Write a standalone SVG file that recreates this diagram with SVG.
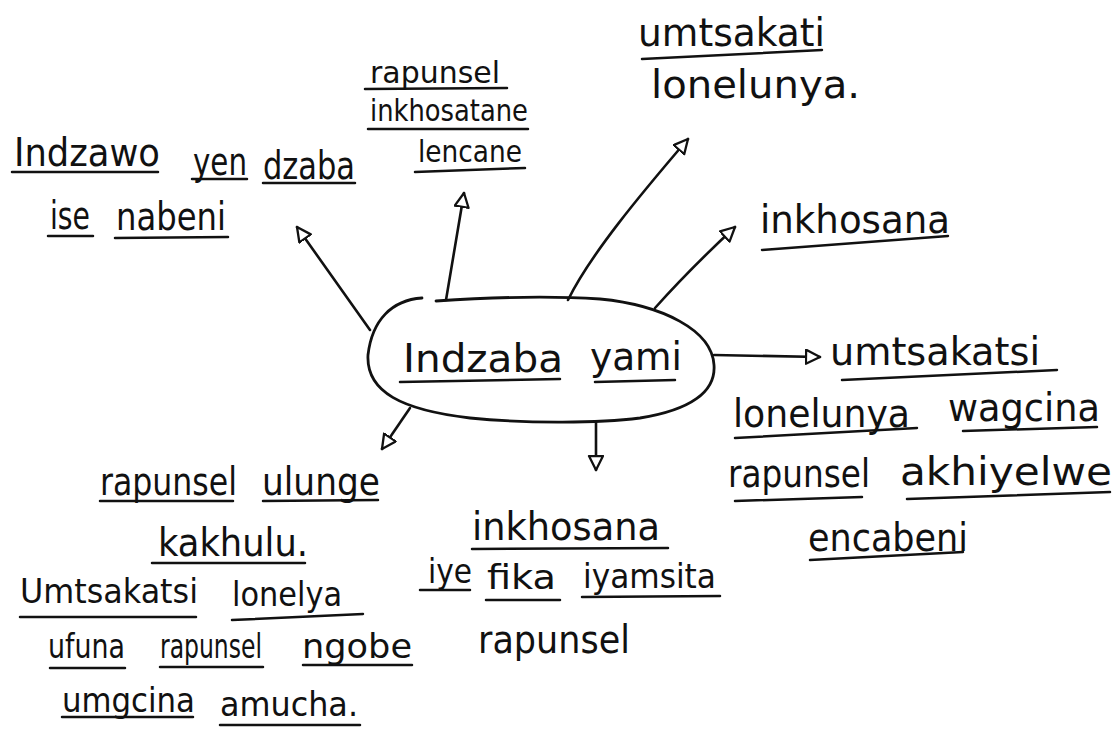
<svg xmlns="http://www.w3.org/2000/svg" width="1117" height="730" viewBox="0 0 1117 730">
<style>
text{font-family:"DejaVu Sans","Liberation Sans",sans-serif;font-size:39px;fill:#111}
.sm{font-size:31px}
.md{font-size:34px}
.ul{stroke:#111;stroke-width:2.5;stroke-linecap:round;fill:none}
.con{stroke:#111;stroke-width:2.6;stroke-linecap:round;fill:none;marker-end:url(#arr)}
.bub{stroke:#111;stroke-width:2.8;fill:none;stroke-linecap:round}
</style>
<defs>
<marker id="arr" markerUnits="userSpaceOnUse" markerWidth="20" markerHeight="20" refX="15" refY="8" orient="auto">
<path d="M1,1 L15,8 L1,15 Z" fill="#fff" stroke="#111" stroke-width="2.3" stroke-linejoin="round"/>
</marker>
</defs>
<rect width="1117" height="730" fill="#fff"/>

<g id="connectors">
<path class="con" d="M370,330 L297,227"/>
<path class="con" d="M446,300 L464,193"/>
<path class="con" d="M568,300 C590,255 640,195 688,139"/>
<path class="con" d="M655,308 C680,280 705,255 735,227"/>
<path class="con" d="M714,355 L820,357"/>
<path class="con" d="M596,422 L596,470"/>
<path class="con" d="M410,408 L382,449"/>
</g>

<g id="center">
<path class="bub" d="M422,298 C392,300 372,320 368,355 C366,392 402,410 470,418 C530,424 600,423 640,418 C690,410 716,392 714,365 C712,330 662,305 600,299 C540,295 480,298 436,301"/>
<text x="403" y="372" textLength="160" lengthAdjust="spacingAndGlyphs">Indzaba</text>
<text x="590" y="370" textLength="92" lengthAdjust="spacingAndGlyphs">yami</text>
<path class="ul" d="M400,382 L560,379 M595,382 L675,380"/>
</g>

<g id="n1">
<text x="14" y="166" textLength="146" lengthAdjust="spacingAndGlyphs">Indzawo</text>
<text x="193" y="175" textLength="54" lengthAdjust="spacingAndGlyphs">yen</text>
<text x="263" y="179" textLength="92" lengthAdjust="spacingAndGlyphs">dzaba</text>
<text x="50" y="229" textLength="40" lengthAdjust="spacingAndGlyphs">ise</text>
<text x="116" y="230" textLength="110" lengthAdjust="spacingAndGlyphs">nabeni</text>
<path class="ul" d="M12,172 L158,172 M192,179 L247,179 M263,183 L355,183 M48,236 L93,236 M115,238 L228,237"/>
</g>

<g id="n2">
<text class="sm" x="370" y="83" textLength="130" lengthAdjust="spacingAndGlyphs">rapunsel</text>
<text class="sm" x="370" y="121" textLength="158" lengthAdjust="spacingAndGlyphs">inkhosatane</text>
<text class="sm" x="418" y="162" textLength="104" lengthAdjust="spacingAndGlyphs">lencane</text>
<path class="ul" d="M365,89 L507,88 M368,129 L528,129 M415,172 L525,168"/>
</g>

<g id="n3">
<text x="638" y="46" textLength="187" lengthAdjust="spacingAndGlyphs">umtsakati</text>
<text x="651" y="98" textLength="209" lengthAdjust="spacingAndGlyphs">lonelunya.</text>
<path class="ul" d="M642,59 L822,50"/>
</g>

<g id="n4">
<text x="760" y="233" textLength="190" lengthAdjust="spacingAndGlyphs">inkhosana</text>
<path class="ul" d="M762,250 L948,236"/>
</g>

<g id="n5">
<text x="830" y="365" textLength="210" lengthAdjust="spacingAndGlyphs">umtsakatsi</text>
<text x="733" y="427" textLength="177" lengthAdjust="spacingAndGlyphs">lonelunya</text>
<text x="948" y="421" textLength="152" lengthAdjust="spacingAndGlyphs">wagcina</text>
<text x="728" y="487" textLength="142" lengthAdjust="spacingAndGlyphs">rapunsel</text>
<text x="900" y="485" textLength="212" lengthAdjust="spacingAndGlyphs">akhiyelwe</text>
<text x="808" y="551" textLength="160" lengthAdjust="spacingAndGlyphs">encabeni</text>
<path class="ul" d="M842,380 L1057,370 M735,438 L917,428 M963,431 L1097,427 M735,501 L862,497 M907,499 L1110,492 M810,560 L963,552"/>
</g>

<g id="n6">
<text x="472" y="540" textLength="188" lengthAdjust="spacingAndGlyphs">inkhosana</text>
<text class="md" x="428" y="583" textLength="44" lengthAdjust="spacingAndGlyphs">iye</text>
<text class="md" x="487" y="589" textLength="69" lengthAdjust="spacingAndGlyphs">fika</text>
<text class="md" x="583" y="588" textLength="133" lengthAdjust="spacingAndGlyphs">iyamsita</text>
<text x="478" y="653" textLength="152" lengthAdjust="spacingAndGlyphs">rapunsel</text>
<path class="ul" d="M472,549 L668,548 M420,590 L470,590 M486,600 L560,600 M582,597 L720,596"/>
</g>

<g id="n7">
<text x="100" y="495" textLength="137" lengthAdjust="spacingAndGlyphs">rapunsel</text>
<text x="262" y="495" textLength="118" lengthAdjust="spacingAndGlyphs">ulunge</text>
<text x="158" y="556" textLength="150" lengthAdjust="spacingAndGlyphs">kakhulu.</text>
<text class="md" x="20" y="603" textLength="178" lengthAdjust="spacingAndGlyphs">Umtsakatsi</text>
<text class="md" x="232" y="606" textLength="110" lengthAdjust="spacingAndGlyphs">lonelya</text>
<text class="md" x="48" y="658" textLength="77" lengthAdjust="spacingAndGlyphs">ufuna</text>
<text class="md" x="160" y="658" textLength="102" lengthAdjust="spacingAndGlyphs">rapunsel</text>
<text class="md" x="302" y="658" textLength="110" lengthAdjust="spacingAndGlyphs">ngobe</text>
<text class="md" x="62" y="712" textLength="133" lengthAdjust="spacingAndGlyphs">umgcina</text>
<text class="md" x="220" y="716" textLength="138" lengthAdjust="spacingAndGlyphs">amucha.</text>
<path class="ul" d="M100,501 L233,501 M263,501 L378,500 M152,563 L305,563 M20,617 L196,617 M232,620 L363,614 M50,668 L125,668 M160,667 L263,667 M303,665 L412,665 M62,717 L193,717 M220,725 L360,725"/>
</g>
</svg>
